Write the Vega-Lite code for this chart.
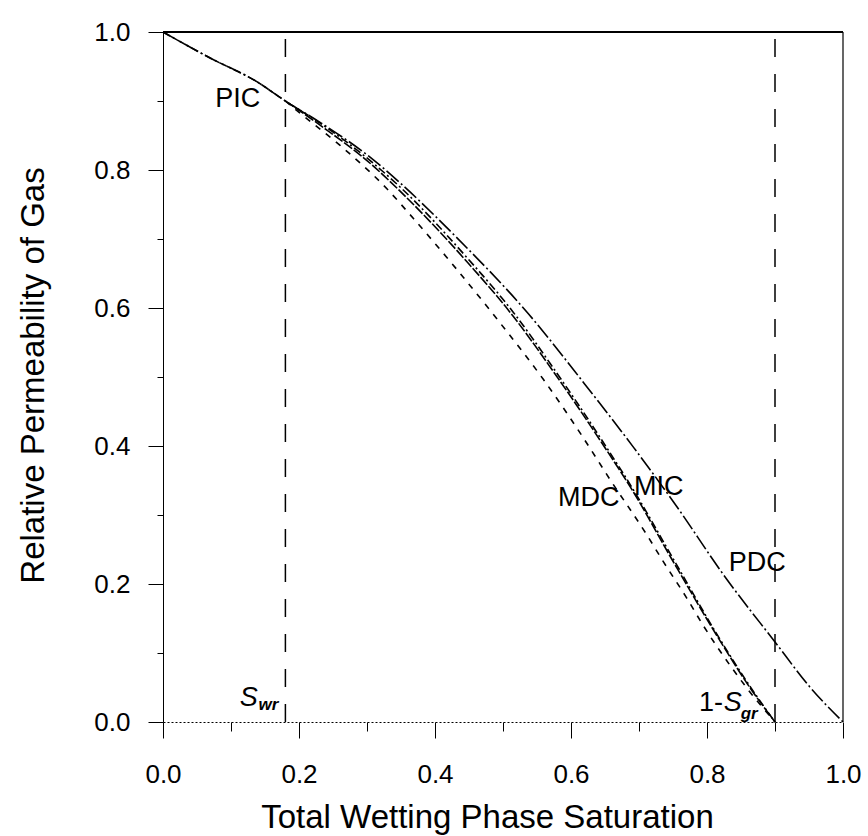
{
  "$schema": "https://vega.github.io/schema/vega-lite/v6.json",
  "width": 680,
  "height": 690,
  "autosize": {"type": "none"},
  "padding": {"left": 163, "top": 32, "right": 25, "bottom": 114},
  "background": "white",
  "config": {"view": {"stroke": null}, "font": "Liberation Sans"},
  "datasets": {
    "curves": [
      {"c": "PDC", "x": 0, "y": 1}, {"c": "PDC", "x": 0.07, "y": 0.962}, {"c": "PDC", "x": 0.138, "y": 0.928}, {"c": "PDC", "x": 0.18, "y": 0.9},
      {"c": "PDC", "x": 0.231, "y": 0.869}, {"c": "PDC", "x": 0.309, "y": 0.815}, {"c": "PDC", "x": 0.349, "y": 0.781}, {"c": "PDC", "x": 0.432, "y": 0.702},
      {"c": "PDC", "x": 0.537, "y": 0.592}, {"c": "PDC", "x": 0.62, "y": 0.49}, {"c": "PDC", "x": 0.692, "y": 0.398}, {"c": "PDC", "x": 0.75, "y": 0.32},
      {"c": "PDC", "x": 0.829, "y": 0.207}, {"c": "PDC", "x": 0.9, "y": 0.116}, {"c": "PDC", "x": 0.951, "y": 0.051}, {"c": "PDC", "x": 1.0, "y": 0},
      {"c": "PIC", "x": 0, "y": 1}, {"c": "PIC", "x": 0.07, "y": 0.962}, {"c": "PIC", "x": 0.138, "y": 0.928}, {"c": "PIC", "x": 0.18, "y": 0.9},
      {"c": "PIC", "x": 0.231, "y": 0.868}, {"c": "PIC", "x": 0.309, "y": 0.81}, {"c": "PIC", "x": 0.349, "y": 0.775}, {"c": "PIC", "x": 0.447, "y": 0.673},
      {"c": "PIC", "x": 0.515, "y": 0.594}, {"c": "PIC", "x": 0.574, "y": 0.513}, {"c": "PIC", "x": 0.645, "y": 0.409}, {"c": "PIC", "x": 0.692, "y": 0.336},
      {"c": "PIC", "x": 0.75, "y": 0.237}, {"c": "PIC", "x": 0.819, "y": 0.12}, {"c": "PIC", "x": 0.863, "y": 0.052}, {"c": "PIC", "x": 0.9, "y": 0},
      {"c": "MIC", "x": 0.18, "y": 0.9}, {"c": "MIC", "x": 0.231, "y": 0.865}, {"c": "MIC", "x": 0.309, "y": 0.806}, {"c": "MIC", "x": 0.349, "y": 0.769},
      {"c": "MIC", "x": 0.447, "y": 0.667}, {"c": "MIC", "x": 0.515, "y": 0.588}, {"c": "MIC", "x": 0.574, "y": 0.508}, {"c": "MIC", "x": 0.645, "y": 0.405},
      {"c": "MIC", "x": 0.692, "y": 0.333}, {"c": "MIC", "x": 0.75, "y": 0.233}, {"c": "MIC", "x": 0.819, "y": 0.118}, {"c": "MIC", "x": 0.863, "y": 0.05},
      {"c": "MIC", "x": 0.9, "y": 0},
      {"c": "MDC", "x": 0.18, "y": 0.9}, {"c": "MDC", "x": 0.197, "y": 0.886}, {"c": "MDC", "x": 0.26, "y": 0.836}, {"c": "MDC", "x": 0.33, "y": 0.772},
      {"c": "MDC", "x": 0.368, "y": 0.73}, {"c": "MDC", "x": 0.432, "y": 0.656}, {"c": "MDC", "x": 0.496, "y": 0.578}, {"c": "MDC", "x": 0.559, "y": 0.497},
      {"c": "MDC", "x": 0.616, "y": 0.415}, {"c": "MDC", "x": 0.657, "y": 0.352}, {"c": "MDC", "x": 0.711, "y": 0.272}, {"c": "MDC", "x": 0.736, "y": 0.232},
      {"c": "MDC", "x": 0.77, "y": 0.18}, {"c": "MDC", "x": 0.795, "y": 0.139}, {"c": "MDC", "x": 0.834, "y": 0.082}, {"c": "MDC", "x": 0.858, "y": 0.05},
      {"c": "MDC", "x": 0.9, "y": 0}
    ],
    "vlines": [{"x": 0.18, "y0": 0, "y1": 1}, {"x": 0.9, "y0": 0, "y1": 1}],
    "right": [{"x": 1, "y0": 0, "y1": 1}],
    "top": [{"x0": 0, "x1": 1, "y": 1}],
    "labels": [
      {"t": "PIC", "x": 0.11, "y": 0.903},
      {"t": "MDC", "x": 0.626, "y": 0.325},
      {"t": "MIC", "x": 0.729, "y": 0.341},
      {"t": "PDC", "x": 0.874, "y": 0.231},
      {"t": "1-", "x": 0.806, "y": 0.0275}
    ],
    "italic": [
      {"t": "S", "x": 0.126, "y": 0.035},
      {"t": "S", "x": 0.838, "y": 0.0275}
    ],
    "subs": [
      {"t": "wr", "x": 0.155, "y": 0.024},
      {"t": "gr", "x": 0.862, "y": 0.012}
    ]
  },
  "layer": [
    {
      "data": {"name": "curves"},
      "mark": {"type": "line", "color": "black", "strokeWidth": 1.6, "interpolate": "monotone"},
      "encoding": {
        "x": {
          "field": "x", "type": "quantitative",
          "scale": {"domain": [0, 1], "nice": false, "zero": false},
          "axis": {
            "title": "Total Wetting Phase Saturation",
            "values": [0, 0.1, 0.2, 0.3, 0.4, 0.5, 0.6, 0.7, 0.8, 0.9, 1],
            "labelExpr": "round(datum.value*10)%2==0 ? format(datum.value,'.1f') : ''",
            "tickSize": {"condition": {"test": "round(datum.value*10)%2==0", "value": 16}, "value": 9},
            "labelPadding": 23, "labelFontSize": 26, "labelFont": "Liberation Sans", "labelColor": "black",
            "labelFlush": false, "labelOverlap": false,
            "tickColor": "black", "domainColor": "black", "domainDash": [2, 2], "grid": false,
            "titleFontSize": 33, "titleFontWeight": "normal", "titleColor": "black", "titleFont": "Liberation Sans",
            "titleBaseline": "alphabetic", "titleAlign": "center", "titleX": 324, "titleY": 105
          }
        },
        "y": {
          "field": "y", "type": "quantitative",
          "scale": {"domain": [0, 1], "nice": false},
          "axis": {
            "title": "Relative Permeability of Gas",
            "values": [0, 0.1, 0.2, 0.3, 0.4, 0.5, 0.6, 0.7, 0.8, 0.9, 1],
            "labelExpr": "round(datum.value*10)%2==0 ? format(datum.value,'.1f') : ''",
            "tickSize": {"condition": {"test": "round(datum.value*10)%2==0", "value": 15}, "value": 6},
            "labelPadding": 18, "labelFontSize": 26, "labelFont": "Liberation Sans", "labelColor": "black",
            "labelFlush": false, "labelOverlap": false,
            "tickColor": "black", "domainColor": "black", "grid": false,
            "titleFontSize": 33, "titleFontWeight": "normal", "titleColor": "black", "titleFont": "Liberation Sans",
            "titleBaseline": "alphabetic", "titleAlign": "center", "titleAngle": -90, "titleX": -120, "titleY": 343
          }
        },
        "strokeDash": {
          "field": "c", "type": "nominal",
          "scale": {"domain": ["PDC", "PIC", "MIC", "MDC"], "range": [[16, 3, 2, 3], [8, 3, 2, 3], [10, 2], [6, 7]]},
          "legend": null
        }
      }
    },
    {
      "data": {"name": "vlines"},
      "mark": {"type": "rule", "color": "black", "strokeWidth": 1.5, "strokeDash": [18, 17]},
      "encoding": {"x": {"field": "x", "type": "quantitative"}, "y": {"field": "y0", "type": "quantitative"}, "y2": {"field": "y1"}}
    },
    {
      "data": {"name": "right"},
      "mark": {"type": "rule", "color": "black", "strokeWidth": 1.2},
      "encoding": {"x": {"field": "x", "type": "quantitative"}, "y": {"field": "y0", "type": "quantitative"}, "y2": {"field": "y1"}}
    },
    {
      "data": {"name": "top"},
      "mark": {"type": "rule", "color": "black", "strokeWidth": 2},
      "encoding": {"x": {"field": "x0", "type": "quantitative"}, "x2": {"field": "x1"}, "y": {"field": "y", "type": "quantitative"}}
    },
    {
      "data": {"name": "labels"},
      "mark": {"type": "text", "font": "Liberation Sans", "fontSize": 27, "color": "black", "align": "center", "baseline": "middle"},
      "encoding": {"x": {"field": "x", "type": "quantitative"}, "y": {"field": "y", "type": "quantitative"}, "text": {"field": "t"}}
    },
    {
      "data": {"name": "italic"},
      "mark": {"type": "text", "font": "Liberation Sans", "fontSize": 27, "fontStyle": "italic", "color": "black", "align": "center", "baseline": "middle"},
      "encoding": {"x": {"field": "x", "type": "quantitative"}, "y": {"field": "y", "type": "quantitative"}, "text": {"field": "t"}}
    },
    {
      "data": {"name": "subs"},
      "mark": {"type": "text", "font": "Liberation Sans", "fontSize": 17, "fontStyle": "italic", "fontWeight": "bold", "color": "black", "align": "center", "baseline": "middle"},
      "encoding": {"x": {"field": "x", "type": "quantitative"}, "y": {"field": "y", "type": "quantitative"}, "text": {"field": "t"}}
    }
  ]
}
